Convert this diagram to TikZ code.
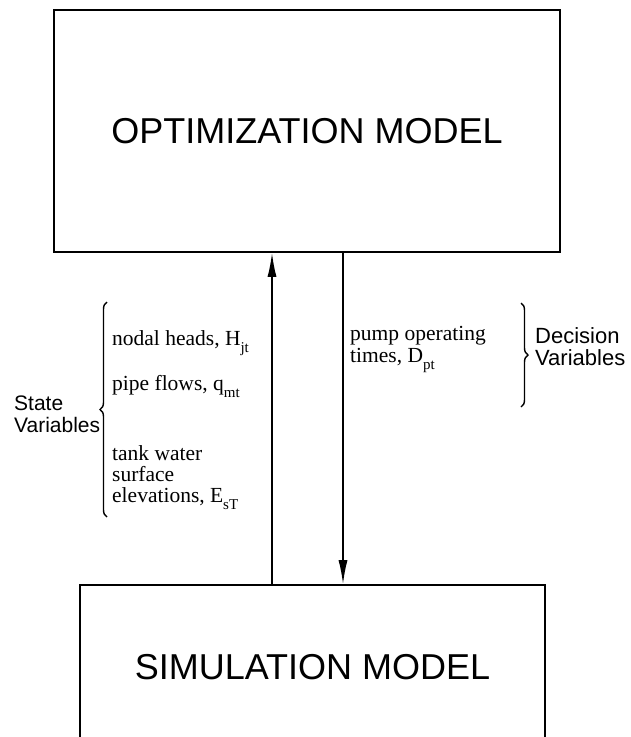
\documentclass[tikz,border=0pt]{standalone}
\usepackage{fontspec}
\setmainfont{Liberation Serif}
\newfontfamily\hv{Liberation Sans}
\usetikzlibrary{decorations.pathreplacing,arrows.meta}
\newcommand{\sbs}[1]{\raisebox{-0.35em}{\fontsize{15}{15}\selectfont #1}}
\begin{document}
\begin{tikzpicture}[x=1pt,y=-1pt,
  modelbox/.style={draw, line width=1.6pt, inner sep=0pt,
     font=\hv\fontsize{36}{40}\selectfont},
  arr/.style={line width=1.6pt, -{Latex[length=24pt,width=9pt]}},
  sans/.style={inner sep=0pt, anchor=base west, font=\hv\fontsize{21}{22}\selectfont},
  serif/.style={inner sep=0pt, anchor=base west, font=\fontsize{21.5}{22}\selectfont},
  bracedec/.style={decorate, line width=1.4pt, decoration={brace, amplitude=7pt}}]
\useasboundingbox (0,0) rectangle (630,737);

\node[modelbox, minimum width=506pt, minimum height=242pt] (opt) at (307,131) {OPTIMIZATION MODEL};
\node[modelbox, minimum width=465pt, minimum height=164pt] (sim) at (312.5,667) {SIMULATION MODEL};

\coordinate (upx) at (272,0);
\coordinate (downx) at (343,0);
\draw[arr] (sim.north -| upx) -- (opt.south -| upx);
\draw[arr] (opt.south -| downx) -- (sim.north -| downx);

% state variables brace
\coordinate (sbb) at (107,517);
\coordinate (sbt) at (107,302);
\draw[bracedec] (sbb) -- (sbt);
\node[sans] (st1) at (14,410) {State};
\node[sans] (st2) at (14,432) {Variables};

\node[serif] (n1) at (112,345) {nodal heads, H\sbs{jt}};
\node[serif] (n2) at (112,390) {pipe flows, q\sbs{mt}};
\node[serif] (n3) at (112,460) {tank water};
\node[serif] (n4) at (112,481) {surface};
\node[serif] (n5) at (112,502) {elevations, E\sbs{sT}};

% decision variables brace
\coordinate (dbt) at (521,303);
\coordinate (dbb) at (521,407);
\draw[bracedec] (dbt) -- (dbb);
\node[serif] (p1) at (350,340) {pump operating};
\node[serif] (p2) at (350,362) {times, D\sbs{pt}};
\node[sans, font=\hv\fontsize{22}{22}\selectfont] (dv1) at (535,343) {Decision};
\node[sans, font=\hv\fontsize{22}{22}\selectfont] (dv2) at (535,365) {Variables};
\end{tikzpicture}
\end{document}
